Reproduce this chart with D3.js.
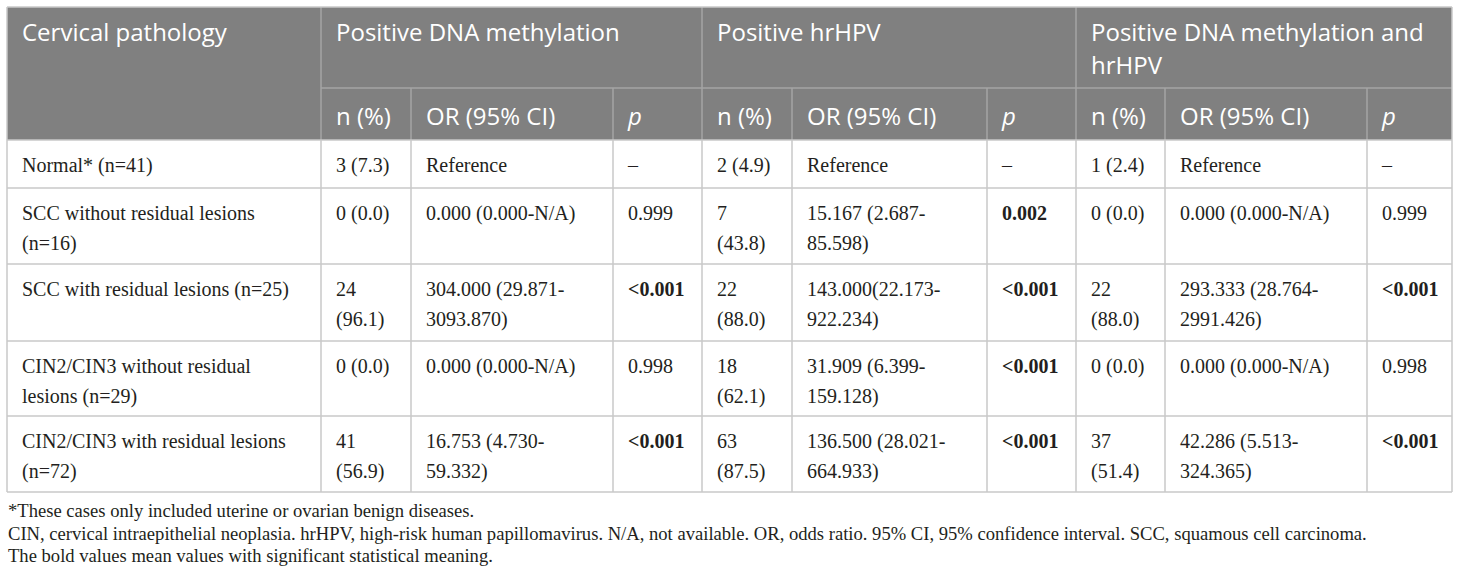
<!DOCTYPE html>
<html>
<head>
<meta charset="utf-8">
<script src="https://cdn.jsdelivr.net/npm/d3@7"></script>
<style>
    body { margin: 0; background: #fff; }
    svg { display: block; }
    .head { font-family: "Open Sans", sans-serif; font-size: 24px; fill: #fff; }
    .cell { font-family: "Liberation Serif", "Times New Roman", serif; font-size: 20px; fill: #231f20; }
    .note { font-family: "Liberation Serif", "Times New Roman", serif; font-size: 18.6px; fill: #231f20; }
</style>
</head>
<body>
<svg id="chart"></svg>
<script>
// table content
const groups = ['Cervical pathology', 'Positive DNA methylation', 'Positive hrHPV', 'Positive DNA methylation and hrHPV'];
const subHeaders = ['n (%)', 'OR (95% CI)', 'p'];
const pathology = [
    'Normal* (n=41)',
    'SCC without residual lesions (n=16)',
    'SCC with residual lesions (n=25)',
    'CIN2/CIN3 without residual lesions (n=29)',
    'CIN2/CIN3 with residual lesions (n=72)',
];
const methylN = ['3 (7.3)', '0 (0.0)', '24 (96.1)', '0 (0.0)', '41 (56.9)'];
const methylOR = ['Reference', '0.000 (0.000-N/A)', '304.000 (29.871-3093.870)', '0.000 (0.000-N/A)', '16.753 (4.730-59.332)'];
const methylP = ['–', '0.999', '<0.001', '0.998', '<0.001'];
const hpvN = ['2 (4.9)', '7 (43.8)', '22 (88.0)', '18 (62.1)', '63 (87.5)'];
const hpvOR = ['Reference', '15.167 (2.687-85.598)', '143.000(22.173-922.234)', '31.909 (6.399-159.128)', '136.500 (28.021-664.933)'];
const hpvP = ['–', '0.002', '<0.001', '<0.001', '<0.001'];
const bothN = ['1 (2.4)', '0 (0.0)', '22 (88.0)', '0 (0.0)', '37 (51.4)'];
const bothOR = ['Reference', '0.000 (0.000-N/A)', '293.333 (28.764-2991.426)', '0.000 (0.000-N/A)', '42.286 (5.513-324.365)'];
const bothP = ['–', '0.999', '<0.001', '0.998', '<0.001'];
const footnotes = [
    '*These cases only included uterine or ovarian benign diseases.',
    'CIN, cervical intraepithelial neoplasia. hrHPV, high-risk human papillomavirus. N/A, not available. OR, odds ratio. 95% CI, 95% confidence interval. SCC, squamous cell carcinoma.',
    'The bold values mean values with significant statistical meaning.',
];

// layout
const W = 1460, H = 579;
const x0 = 7, y0 = 7;
const colWidths = [314, 90, 202, 89, 90, 195, 89, 89, 202, 85];
const rowHeights = [81, 52, 48, 76, 77, 75, 76];
const padX = 15;
const lineH = 30;

const colEdges = [x0, ...d3.cumsum(colWidths).map(v => v + x0)];
const rowEdges = [y0, ...d3.cumsum(rowHeights).map(v => v + y0)];

const svg = d3.select('#chart').attr('width', W).attr('height', H);

const bodyCols = [methylN, methylOR, methylP, hpvN, hpvOR, hpvP, bothN, bothOR, bothP];
const rows = pathology.map((name, i) => [name, ...bodyCols.map(c => c[i])]);

const isSig = v => v.startsWith('<') || (!isNaN(+v) && +v < 0.05);

// header background
svg.append('rect')
    .attr('x', colEdges[0]).attr('y', rowEdges[0])
    .attr('width', colEdges[10] - colEdges[0]).attr('height', rowEdges[2] - rowEdges[0])
    .attr('fill', '#808080');

// greedy wrap, break at spaces and after hyphens
const measurer = svg.append('text').attr('visibility', 'hidden');
function wrapLines(str, cls, weight, maxW) {
    measurer.attr('class', cls).style('font-weight', weight);
    const tokens = [];
    str.split(' ').forEach((w, wi) => {
        const parts = w.split(/(?<=-)/);
        parts.forEach((p, pi) => tokens.push({ t: p, sp: wi > 0 && pi === 0 }));
    });
    const lines = [];
    let cur = '';
    tokens.forEach(tok => {
        const trial = cur === '' ? tok.t : cur + (tok.sp ? ' ' : '') + tok.t;
        measurer.text(trial);
        if (cur !== '' && measurer.node().getComputedTextLength() > maxW) {
            lines.push(cur);
            cur = tok.t;
        } else {
            cur = trial;
        }
    });
    if (cur !== '') lines.push(cur);
    return lines;
}

function drawCell(x, y, w, str, cls, opts = {}) {
    const weight = opts.bold ? 'bold' : 'normal';
    const lines = wrapLines(str, cls, weight, w - 2 * padX - 2);
    const t = svg.append('text')
        .attr('class', cls)
        .attr('x', x + padX)
        .attr('y', y)
        .style('font-weight', weight)
        .style('font-style', opts.italic ? 'italic' : 'normal');
    t.selectAll('tspan')
        .data(lines)
        .enter()
        .append('tspan')
        .attr('x', x + padX)
        .attr('dy', (d, i) => i === 0 ? 0 : (opts.lh || lineH))
        .text(d => d);
}

// header row 1: group titles spanning 3 columns each
const groupSpans = [[0, 1], [1, 4], [4, 7], [7, 10]];
groups.forEach((g, i) => {
    const [a, b] = groupSpans[i];
    drawCell(colEdges[a], rowEdges[0] + 34, colEdges[b] - colEdges[a], g, 'head', { lh: 33 });
});

// header row 2
for (let gi = 0; gi < 3; gi++) {
    subHeaders.forEach((s, j) => {
        const c = 1 + gi * 3 + j;
        drawCell(colEdges[c], rowEdges[1] + 37, colWidths[c], s, 'head', { italic: s === 'p' });
    });
}

// body rows
rows.forEach((r, ri) => {
    r.forEach((v, ci) => {
        const isP = ci % 3 === 0 && ci > 0;
        drawCell(colEdges[ci], rowEdges[ri + 2] + 32, colWidths[ci], v, 'cell', { bold: isP && isSig(v) });
    });
});

// grid lines in header
const headLine = '#a5a5a5';
svg.append('line')
    .attr('x1', colEdges[1]).attr('x2', colEdges[10])
    .attr('y1', rowEdges[1]).attr('y2', rowEdges[1])
    .attr('stroke', headLine).attr('stroke-width', 1.5);
svg.selectAll('.hv1')
    .data([1, 4, 7])
    .enter().append('line')
    .attr('x1', d => colEdges[d]).attr('x2', d => colEdges[d])
    .attr('y1', rowEdges[0]).attr('y2', rowEdges[2])
    .attr('stroke', headLine).attr('stroke-width', 1.5);
svg.selectAll('.hv2')
    .data([2, 3, 5, 6, 8, 9])
    .enter().append('line')
    .attr('x1', d => colEdges[d]).attr('x2', d => colEdges[d])
    .attr('y1', rowEdges[1]).attr('y2', rowEdges[2])
    .attr('stroke', headLine).attr('stroke-width', 1.5);

// grid lines in body
const gridColor = '#c8c8c8';
svg.selectAll('.bh')
    .data(rowEdges.slice(2))
    .enter().append('line')
    .attr('x1', colEdges[0]).attr('x2', colEdges[10])
    .attr('y1', d => d).attr('y2', d => d)
    .attr('stroke', gridColor).attr('stroke-width', 1.5);
svg.selectAll('.bv')
    .data(colEdges)
    .enter().append('line')
    .attr('x1', d => d).attr('x2', d => d)
    .attr('y1', (d, i) => (i === 0 || i === 10) ? rowEdges[0] : rowEdges[2])
    .attr('y2', rowEdges[rowEdges.length - 1])
    .attr('stroke', gridColor).attr('stroke-width', 1.5);
svg.append('line')
    .attr('x1', colEdges[0]).attr('x2', colEdges[10])
    .attr('y1', rowEdges[0]).attr('y2', rowEdges[0])
    .attr('stroke', gridColor).attr('stroke-width', 1.5);

// footnotes
svg.selectAll('.note')
    .data(footnotes)
    .enter().append('text')
    .attr('class', 'note')
    .attr('x', x0 + 1)
    .attr('y', (d, i) => rowEdges[rowEdges.length - 1] + 25 + i * 22.5)
    .text(d => d);

measurer.remove();
</script>
</body>
</html>
